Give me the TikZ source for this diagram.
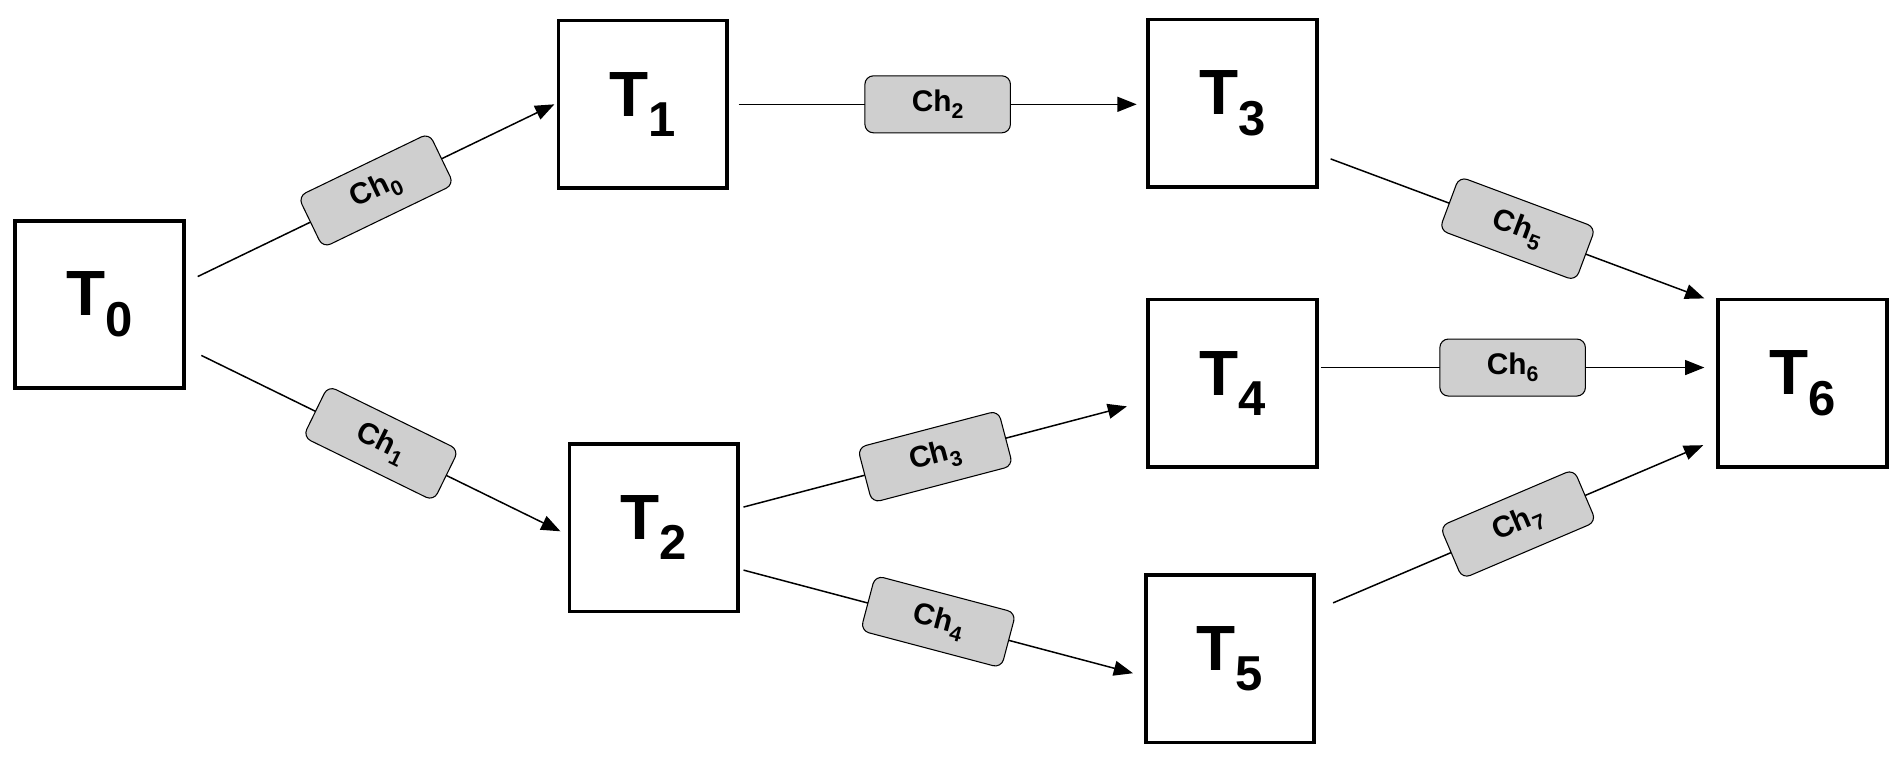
\documentclass[tikz,border=0pt]{standalone}
\usepackage{fontspec}
\setmainfont{Liberation Sans}
\usetikzlibrary{calc,arrows.meta}
\newcommand{\tsub}[1]{T\raisebox{-0.32em}{\fontsize{23}{25}\selectfont #1}}
\newcommand{\chsub}[1]{Ch\raisebox{-0.25em}{\fontsize{10}{12}\selectfont #1}}
\begin{document}
\begin{tikzpicture}[x=0.02cm,y=-0.02cm,
  task/.style={draw,line width=1.7pt,minimum width=2.78cm,minimum height=2.76cm,inner sep=0pt,font=\fontsize{30}{32}\selectfont\bfseries},
  ch/.style={draw,line width=0.5pt,fill=black!19,rounded corners=4pt,minimum width=2.4cm,minimum height=0.94cm,inner sep=0pt,font=\fontsize{14}{16}\selectfont\bfseries,sloped,midway},
  arr/.style={line width=0.7pt,-{Triangle[length=9pt,width=7pt]}}]
\useasboundingbox (0,0) rectangle (1568,629);
\node[task] (T0) at (82,251) {\tsub{0}};
\node[task] (T1) at (530,86) {\tsub{1}};
\node[task] (T2) at (539,435) {\tsub{2}};
\node[task] (T3) at (1016,85) {\tsub{3}};
\node[task] (T4) at (1016,316) {\tsub{4}};
\node[task] (T5) at (1014,543) {\tsub{5}};
\node[task] (T6) at (1486,316) {\tsub{6}};
\draw[arr] ($(T0.east)+(10,-23)$) -- node[ch]{\chsub{0}} ($(T1.west)+(-2,0)$);
\draw[arr] ($(T0.east)+(13,42)$) -- node[ch]{\chsub{1}} ($(T2.west)+(-6,3)$);
\draw[arr] ($(T1.east)+(8,0)$) -- node[ch]{\chsub{2}} ($(T3.west)+(-8,1)$);
\draw[arr] ($(T2.east)+(3,-17)$) -- node[ch]{\chsub{3}} ($(T4.west)+(-16,19)$);
\draw[arr] ($(T2.east)+(3,35)$) -- node[ch]{\chsub{4}} ($(T5.west)+(-9,12)$);
\draw[arr] ($(T3.east)+(10,46)$) -- node[ch]{\chsub{5}} ($(T6.west)+(-10,-70)$);
\draw[arr] ($(T4.east)+(2,-13)$) -- node[ch]{\chsub{6}} ($(T6.west)+(-10,-13)$);
\draw[arr] ($(T5.east)+(14,-46)$) -- node[ch]{\chsub{7}} ($(T6.west)+(-11,51)$);
\end{tikzpicture}
\end{document}
